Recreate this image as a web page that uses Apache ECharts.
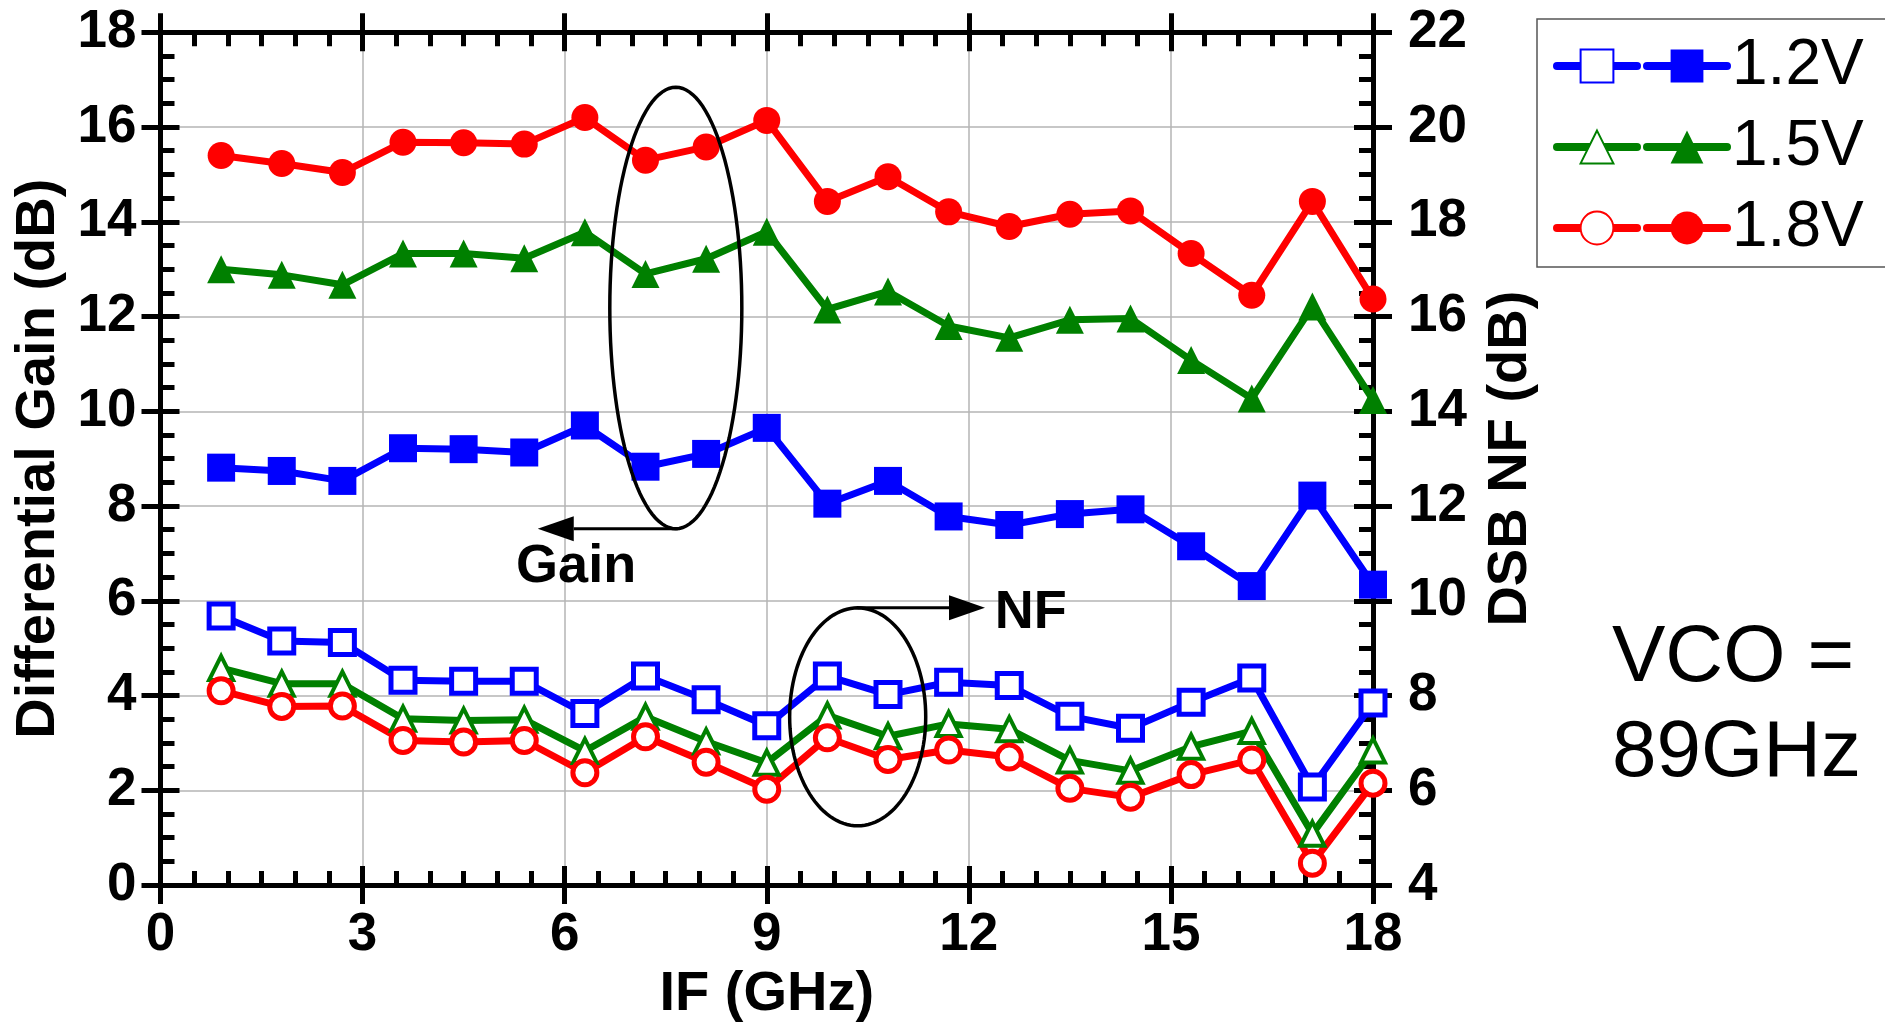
<!DOCTYPE html>
<html>
<head>
<meta charset="utf-8">
<script src="https://cdn.jsdelivr.net/npm/echarts@6/dist/echarts.min.js"></script>
<style>
  html, body { margin: 0; padding: 0; background: #fff; }
  #chart { width: 1885px; height: 1026px; }
</style>
</head>
<body>
<div id="chart"></div>
<script>
// IF frequency sweep (GHz)
const ifFreq = [0.9, 1.8, 2.7, 3.6, 4.5, 5.4, 6.3, 7.2, 8.1, 9.0, 9.9, 10.8, 11.7, 12.6, 13.5, 14.4, 15.3, 16.2, 17.1, 18.0];

// Differential conversion gain (dB), left axis
const gain12 = [8.81, 8.74, 8.53, 9.22, 9.20, 9.13, 9.70, 8.83, 9.10, 9.65, 8.05, 8.53, 7.78, 7.60, 7.83, 7.93, 7.15, 6.31, 8.22, 6.34];
const gain15 = [13.00, 12.88, 12.67, 13.33, 13.33, 13.23, 13.78, 12.90, 13.22, 13.79, 12.15, 12.53, 11.80, 11.55, 11.93, 11.96, 11.08, 10.27, 12.21, 10.24];
const gain18 = [15.40, 15.23, 15.04, 15.68, 15.67, 15.64, 16.20, 15.30, 15.58, 16.14, 14.43, 14.95, 14.21, 13.90, 14.16, 14.23, 13.33, 12.45, 14.43, 12.37];

// DSB noise figure (dB), right axis
const nf12 = [9.68, 9.15, 9.12, 8.32, 8.30, 8.30, 7.62, 8.41, 7.91, 7.36, 8.41, 8.02, 8.28, 8.21, 7.56, 7.31, 7.86, 8.37, 6.07, 7.84];
const nf15 = [8.58, 8.25, 8.25, 7.51, 7.47, 7.49, 6.83, 7.55, 7.03, 6.58, 7.58, 7.14, 7.40, 7.29, 6.63, 6.41, 6.92, 7.25, 5.08, 6.84];
const nf18 = [8.10, 7.77, 7.78, 7.05, 7.02, 7.05, 6.37, 7.13, 6.59, 6.02, 7.11, 6.65, 6.85, 6.70, 6.04, 5.85, 6.33, 6.64, 4.46, 6.15];

// Supply voltages
const supplies = ['1.2V', '1.5V', '1.8V'];

// Axis ranges
const xRange = { min: 0, max: 18, interval: 3 };
const gainRange = { min: 0, max: 18, interval: 2 };
const nfRange = { min: 4, max: 22, interval: 2 };

// Callouts, in (GHz, gain dB) coordinates
const gainEllipse = { x: 7.65, y: 12.18, rx: 0.98, ry: 4.66 };
const gainArrow = { from: [7.68, 7.52], to: [5.60, 7.52] };
const gainLabel = { x: 6.17, y: 6.71, text: 'Gain' };
const nfEllipse = { x: 10.35, y: 3.55, rx: 1.01, ry: 2.30 };
const nfArrow = { from: [10.35, 5.85], to: [12.24, 5.85] };
const nfLabel = { x: 12.92, y: 5.74, text: 'NF' };

const FONT = '"Liberation Sans", Arial, Helvetica, sans-serif';
const BLUE = '#0000ff', GREEN = '#008000', RED = '#ff0000';
const colors = [BLUE, GREEN, RED];
const symbols = ['rect', 'triangle', 'circle'];
const filledSizes = [28, 28, 27];

const chart = echarts.init(document.getElementById('chart'), null, { renderer: 'canvas' });

function pairs(ys) { return ifFreq.map((x, i) => [x, ys[i]]); }

const gainData = [gain12, gain15, gain18];
const nfData = [nf12, nf15, nf18];

const series = [];
supplies.forEach((v, i) => {
  series.push({
    name: 'Gain ' + v, type: 'line', xAxisIndex: 0, yAxisIndex: 0,
    data: pairs(gainData[i]), symbol: symbols[i], symbolSize: filledSizes[i],
    lineStyle: { color: colors[i], width: 7 },
    itemStyle: { color: colors[i], borderWidth: 0 },
    emphasis: { disabled: true }, z: 3
  });
});
supplies.forEach((v, i) => {
  series.push({
    name: 'NF ' + v, type: 'line', xAxisIndex: 0, yAxisIndex: 2,
    data: pairs(nfData[i]), symbol: symbols[i], symbolSize: 24,
    lineStyle: { color: colors[i], width: 7 },
    itemStyle: { color: '#fff', borderColor: colors[i], borderWidth: i === 1 ? 4 : 5 },
    emphasis: { disabled: true }, z: 3
  });
});

const axisLine = { show: true, onZero: false, lineStyle: { color: '#000', width: 5 } };
const tickLine = { color: '#000', width: 5 };
const labelStyle = { color: '#000', fontFamily: FONT, fontWeight: 'bold', fontSize: 53 };
const nameStyle = { color: '#000', fontFamily: FONT, fontWeight: 'bold', fontSize: 56 };
const gridLine = { show: true, lineStyle: { color: '#b4b4b4', width: 1.5 } };

// Main axes carry the line, inner ticks and minor ticks; the companion axes
// add the outer half of every major tick so the ticks cross the frame.
function frameAxis(range, position, minorSplit, extra) {
  return Object.assign({
    type: 'value', gridIndex: 0, position: position,
    min: range.min, max: range.max, interval: range.interval,
    axisLine: axisLine,
    axisTick: { show: true, inside: true, length: 19, lineStyle: tickLine },
    minorTick: { show: true, splitNumber: minorSplit, length: 14, lineStyle: tickLine },
    axisLabel: { show: false },
    splitLine: { show: false },
    minorSplitLine: { show: false }
  }, extra || {});
}
function outerTicks(range, position) {
  return {
    type: 'value', gridIndex: 0, position: position,
    min: range.min, max: range.max, interval: range.interval,
    axisLine: { show: false, onZero: false },
    axisTick: { show: true, inside: false, length: 19, lineStyle: tickLine },
    minorTick: { show: false },
    axisLabel: { show: false },
    splitLine: { show: false }
  };
}

const legendCommon = {
  orient: 'vertical', top: 19,
  itemWidth: 80, itemHeight: 41, itemGap: 17, selectedMode: false,
  formatter: n => n.split(' ')[1],
  lineStyle: { width: 8, cap: 'round' }
};

const option = {
  animation: false,
  backgroundColor: '#fff',
  textStyle: { fontFamily: FONT },
  grid: { left: 160.5, right: 512, top: 32.3, bottom: 141, containLabel: false, outerBoundsMode: 'none' },
  title: {
    text: 'VCO =\n89GHz', left: 1607, top: 606,
    textStyle: { fontFamily: FONT, fontSize: 80, fontWeight: 'normal', lineHeight: 95, color: '#000' }
  },
  legend: [
    Object.assign({}, legendCommon, {
      data: series.slice(3).map(s => s.name),
      left: 1553, padding: [15, 0, 7, 0],
      textStyle: { color: 'rgba(0,0,0,0)', fontFamily: FONT, fontSize: 64, lineHeight: 64 }
    }),
    Object.assign({}, legendCommon, {
      data: series.slice(0, 3).map(s => s.name),
      left: 1537, padding: [15, 40, 7, 106],
      borderColor: '#555', borderWidth: 1.5, borderRadius: 0,
      textStyle: { color: '#000', fontFamily: FONT, fontSize: 64, lineHeight: 64 }
    })
  ],
  xAxis: [
    frameAxis(xRange, 'bottom', 6, {
      axisLabel: Object.assign({ show: true, margin: 24 }, labelStyle),
      splitLine: gridLine,
      name: 'IF (GHz)', nameLocation: 'middle', nameGap: 82, nameTextStyle: nameStyle
    }),
    outerTicks(xRange, 'bottom'),
    frameAxis(xRange, 'top', 6),
    outerTicks(xRange, 'top')
  ],
  yAxis: [
    frameAxis(gainRange, 'left', 4, {
      axisLabel: Object.assign({ show: true, margin: 24 }, labelStyle),
      splitLine: gridLine,
      name: 'Differential Gain (dB)', nameLocation: 'middle', nameGap: 94, nameTextStyle: nameStyle
    }),
    outerTicks(gainRange, 'left'),
    frameAxis(nfRange, 'right', 4, {
      axisLabel: Object.assign({ show: true, margin: 35 }, labelStyle),
      name: 'DSB NF (dB)', nameLocation: 'middle', nameRotate: 90, nameGap: 110, nameTextStyle: nameStyle
    }),
    outerTicks(nfRange, 'right')
  ],
  series: series
};

chart.setOption(option);

// Callout ellipses, arrows and labels placed through the gain/IF scales
function px(x, y) { return chart.convertToPixel({ xAxisIndex: 0, yAxisIndex: 0 }, [x, y]); }

function ellipseEl(e) {
  const c = px(e.x, e.y);
  const rxPx = px(e.x + e.rx, e.y)[0] - c[0];
  const ryPx = c[1] - px(e.x, e.y + e.ry)[1];
  const pts = [];
  const steps = 120;
  for (let k = 0; k < steps; k++) {
    const t = (k / steps) * Math.PI * 2;
    pts.push([c[0] + rxPx * Math.cos(t), c[1] + ryPx * Math.sin(t)]);
  }
  return {
    type: 'polygon', shape: { points: pts },
    style: { fill: 'none', stroke: '#000', lineWidth: 3.5 },
    z: 10
  };
}
function arrowEls(a) {
  const p = px(a.from[0], a.from[1]);
  const t = px(a.to[0], a.to[1]);
  const dir = Math.sign(t[0] - p[0]);
  const headLen = 36, headHalf = 12.5;
  const baseX = t[0] - dir * headLen;
  return [
    { type: 'line', shape: { x1: p[0], y1: p[1], x2: baseX, y2: t[1] },
      style: { stroke: '#000', lineWidth: 3 }, z: 10 },
    { type: 'polygon', shape: { points: [[t[0], t[1]], [baseX, t[1] - headHalf], [baseX, t[1] + headHalf]] },
      style: { fill: '#000' }, z: 10 }
  ];
}
function labelEl(l) {
  const p = px(l.x, l.y);
  return {
    type: 'text', x: p[0], y: p[1], z: 10,
    style: { text: l.text, fill: '#000', font: 'bold 54px ' + FONT, align: 'center', verticalAlign: 'middle' }
  };
}

chart.setOption({
  graphic: {
    elements: [
      ellipseEl(gainEllipse), ...arrowEls(gainArrow), labelEl(gainLabel),
      ellipseEl(nfEllipse), ...arrowEls(nfArrow), labelEl(nfLabel)
    ]
  }
});
</script>
</body>
</html>
